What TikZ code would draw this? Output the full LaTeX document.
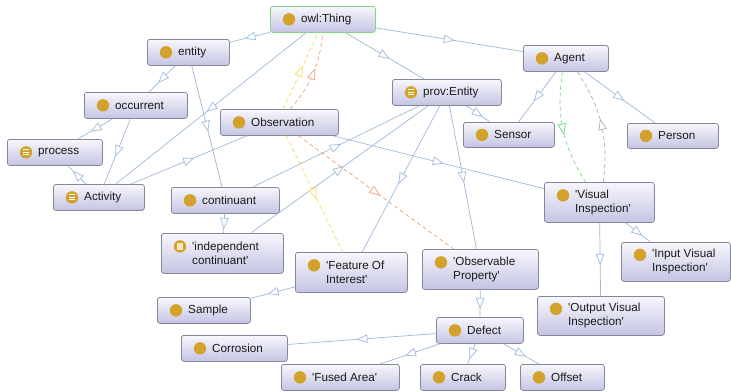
\documentclass[tikz,border=0pt]{standalone}
\usepackage{fontspec}
\setmainfont{Liberation Sans}
\usetikzlibrary{arrows.meta,decorations.markings,calc}

\definecolor{edgeblue}{HTML}{9DBADB}
\definecolor{boxtop}{HTML}{F7F7FC}
\definecolor{boxbot}{HTML}{C4C4E4}
\definecolor{boxline}{HTML}{86869A}
\definecolor{thingline}{HTML}{86D486}
\definecolor{gold}{HTML}{D2A22A}
\definecolor{cream}{HTML}{F3E6BE}
\definecolor{propyellow}{HTML}{F2DD5A}
\definecolor{proporange}{HTML}{EAA372}
\definecolor{propgreen}{HTML}{78DA78}
\definecolor{propgray}{HTML}{ADADAD}
\definecolor{txt}{HTML}{1A1A1A}

\tikzset{
 obox/.style={draw=boxline, line width=0.75pt, rounded corners=2.5pt, top color=boxtop, bottom color=boxbot, inner sep=0pt},
 otext/.style={font=\fontsize{11.7}{14}\selectfont, text=txt, align=left, inner sep=0pt},
 rel/.style={draw=#1, line width=0.7pt, postaction={decorate},
   decoration={markings, mark=at position 0.5 with {\arrow[xshift=5.5pt]{Triangle[open,color=#1,fill=white,length=11pt,width=8.5pt,line width=0.7pt]}}}},
 isa/.style={rel=edgeblue},
 prop/.style={rel=#1, dash pattern=on 4pt off 3pt},
}

\newcommand{\onode}[7][boxline]{%
  \node[obox, draw=#1, minimum width=#5pt, minimum height=#6pt, anchor=north west] (#2) at (#3,#4) {};
  \node[otext, anchor=west] (#2-t) at ([xshift=31pt]#2.west) {#7};
}
\newcommand{\icoplain}[2][0pt]{\fill[gold] ([xshift=19pt,yshift=#1]#2.west) circle (6.2pt);}
\newcommand{\icolines}[2][0pt]{\begin{scope}[shift={([xshift=19pt,yshift=#1]#2.west)}]
  \fill[gold] (0,0) circle (6.2pt);
  \draw[white, line width=0.9pt] (-3,-2.5) -- (3,-2.5) (-3,0) -- (3,0) (-3,2.5) -- (3,2.5);
\end{scope}}
\newcommand{\icosquare}[2][0pt]{\begin{scope}[shift={([xshift=19pt,yshift=#1]#2.west)}]
  \fill[gold] (0,0) circle (6.2pt);
  \fill[cream] (-3.2,-3.2) rectangle (3.2,3.2);
\end{scope}}
\newcommand{\ap}{\textquotesingle}

\begin{document}
\begin{tikzpicture}[x=1pt,y=-1pt]
\fill[white] (0,0) rectangle (731,391);
\useasboundingbox (0,0) rectangle (731,391);

% nodes
\onode[thingline]{thing}{270}{6}{105}{26}{owl:Thing}
\onode{entity}{147}{39}{82}{26}{entity}
\onode{occurrent}{84}{92}{103}{26}{occurrent}
\onode{process}{7}{139}{95}{26}{process}
\onode{activity}{53}{184}{91}{26}{Activity}
\onode{observation}{220}{109}{118}{26}{Observation}
\onode{continuant}{171}{187}{108}{26}{continuant}
\onode{indcont}{161}{233}{122}{40}{\ap independent\\continuant\ap}
\onode{foi}{295}{252}{112}{40}{\ap Feature Of\\Interest\ap}
\onode{sample}{157}{297}{93}{26}{Sample}
\onode{corrosion}{181}{335}{106}{26}{Corrosion}
\onode{fused}{281}{364}{118}{26}{\ap Fused Area\ap}
\onode{proventity}{392}{79}{109}{26}{prov:Entity}
\onode{sensor}{463}{122}{91}{25}{Sensor}
\onode{agent}{523}{45}{85}{26}{Agent}
\onode{person}{627}{123}{91}{25}{Person}
\onode{vi}{544}{182}{110}{40}{\ap Visual\\Inspection\ap}
\onode{ivi}{621}{242}{109}{39}{\ap Input Visual\\Inspection\ap}
\onode{op}{422}{249}{116}{40}{\ap Observable\\Property\ap}
\onode{ovi}{537}{296}{127}{39}{\ap Output Visual\\Inspection\ap}
\onode{defect}{436}{317}{87}{26}{Defect}
\onode{crack}{420}{364}{85}{26}{Crack}
\onode{offset}{520}{364}{84}{26}{Offset}

% icons
\icoplain{thing}
\icoplain{entity}
\icoplain{occurrent}
\icolines{process}
\icolines{activity}
\icoplain{observation}
\icoplain{continuant}
\icosquare[7pt]{indcont}
\icoplain[7pt]{foi}
\icoplain{sample}
\icoplain{corrosion}
\icoplain{fused}
\icolines{proventity}
\icoplain{sensor}
\icoplain{agent}
\icoplain{person}
\icoplain[7pt]{vi}
\icoplain[7pt]{ivi}
\icoplain[7pt]{op}
\icoplain[7pt]{ovi}
\icoplain{defect}
\icoplain{crack}
\icoplain{offset}

% subclass edges
\draw[isa] (thing) -- (entity);
\draw[isa] (thing) -- (activity);
\draw[isa] (thing) -- (proventity);
\draw[isa] (thing) -- (agent);
\draw[isa] (entity) -- (occurrent);
\draw[isa] (entity) -- (continuant);
\draw[isa] (occurrent) -- (process);
\draw[isa] (occurrent) -- (activity);
\draw[isa] (activity) -- (process);
\draw[isa] (activity) -- (observation);
\draw[isa] (continuant) -- (proventity);
\draw[isa] (indcont) -- (proventity);
\draw[isa] (continuant) -- (indcont);
\draw[isa] (proventity) -- (foi);
\draw[isa] (proventity) -- (op);
\draw[isa] (proventity) -- (sensor);
\draw[isa] (observation) -- (vi);
\draw[isa] (agent) -- (sensor);
\draw[isa] (agent) -- (person);
\draw[isa] (vi) -- (ivi);
\draw[isa] (vi) -- (ovi);
\draw[isa] (op) -- (defect);
\draw[isa] (defect) -- (corrosion);
\draw[isa] (defect) -- (fused);
\draw[isa] (defect) -- (crack);
\draw[isa] (defect) -- (offset);
\draw[isa] (foi) -- (sample);

% property edges
\draw[prop=propyellow] ([xshift=4pt]observation.north) -- ([xshift=-5pt]thing.south);
\draw[prop=proporange] ([xshift=11pt]observation.north) to[bend right=17] (thing.south);
\draw[prop=propyellow] ([xshift=7pt]observation.south) -- ([xshift=-9pt]foi.north);
\draw[prop=proporange] ([xshift=19pt]observation.south) -- ([xshift=-27pt]op.north);
\draw[prop=propgreen] ([xshift=-3.5pt]agent.south) to[bend right=20] ([xshift=-14pt]vi.north);
\draw[prop=propgray] ([xshift=4pt]vi.north) to[bend right=20] ([xshift=11.5pt]agent.south);
\end{tikzpicture}
\end{document}
